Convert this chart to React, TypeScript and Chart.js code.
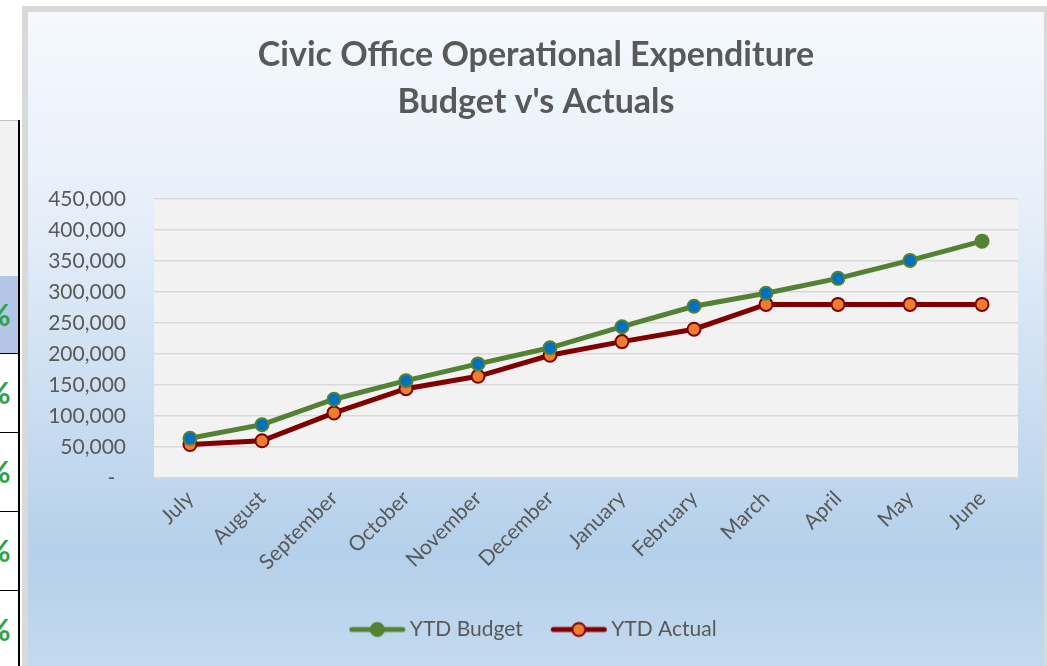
import React, { useEffect, useRef } from "react";
import { Chart, registerables } from "chart.js";

Chart.register(...registerables);

const months = ["July", "August", "September", "October", "November", "December", "January", "February", "March", "April", "May", "June"];
const ytdBudget = [64000, 86000, 127000, 157000, 184000, 210000, 244000, 277000, 298000, 322000, 351000, 382000];
const ytdActual = [54000, 60000, 105000, 144000, 164000, 198000, 220000, 240000, 280000, 280000, 280000, 280000];
const titleLines = ["Civic Office Operational Expenditure", "Budget v's Actuals"];
const seriesNames = ["YTD Budget", "YTD Actual"];

const GREEN = "#548235";
const BLUE = "#0070C0";
const DARKRED = "#800000";
const ORANGE = "#ED7D31";
const TEXT = "#595959";
const FONT = "Lato, 'Open Sans', sans-serif";

function legendIcon(line: string, fill: string, border: string) {
  const c = document.createElement("canvas");
  c.width = 70;
  c.height = 20;
  const ctx = c.getContext("2d")!;
  ctx.strokeStyle = line;
  ctx.lineWidth = 5;
  ctx.lineCap = "round";
  ctx.beginPath();
  ctx.moveTo(9.5, 10);
  ctx.lineTo(60.5, 10);
  ctx.stroke();
  ctx.beginPath();
  ctx.arc(35, 10, 6.5, 0, Math.PI * 2);
  ctx.fillStyle = fill;
  ctx.fill();
  ctx.lineWidth = 2;
  ctx.strokeStyle = border;
  ctx.stroke();
  return c;
}

const plotBg = {
  id: "plotBg",
  beforeDraw(chart: any) {
    const { ctx, chartArea } = chart;
    ctx.save();
    ctx.fillStyle = "#f2f2f2";
    ctx.fillRect(chartArea.left, chartArea.top, chartArea.right - chartArea.left, chartArea.bottom - chartArea.top);
    ctx.restore();
  },
};

export default function App() {
  const ref = useRef<HTMLCanvasElement>(null);

  useEffect(() => {
    const icons = [legendIcon(GREEN, GREEN, GREEN), legendIcon(DARKRED, ORANGE, DARKRED)];
    const budgetFill = ytdBudget.map((_, i) => (i === ytdBudget.length - 1 ? GREEN : BLUE));
    const chart = new Chart(ref.current!, {
      type: "line",
      data: {
        labels: months,
        datasets: [
          {
            label: seriesNames[0],
            data: ytdBudget,
            borderColor: GREEN,
            borderWidth: 5,
            pointRadius: 6.5,
            pointBorderWidth: 2,
            pointBackgroundColor: budgetFill,
            pointBorderColor: GREEN,
            tension: 0,
          },
          {
            label: seriesNames[1],
            data: ytdActual,
            borderColor: DARKRED,
            borderWidth: 5,
            pointRadius: 6.5,
            pointBorderWidth: 2,
            pointBackgroundColor: ORANGE,
            pointBorderColor: DARKRED,
            tension: 0,
          },
        ],
      },
      plugins: [plotBg],
      options: {
        animation: false,
        responsive: false,
        maintainAspectRatio: false,
        layout: { padding: { left: 0, right: 0, top: 0, bottom: 16 } },
        plugins: {
          title: {
            display: true,
            text: titleLines,
            color: TEXT,
            font: { family: FONT, size: 34, weight: "bold", lineHeight: 47 / 34 },
            padding: { top: 20, bottom: 73 },
          },
          legend: {
            position: "bottom",
            labels: {
              color: TEXT,
              font: { family: FONT, size: 21 },
              usePointStyle: true,
              pointStyleWidth: 44,
              boxHeight: 20,
              padding: 34,
              generateLabels(chart: any) {
                const items = Chart.defaults.plugins.legend.labels.generateLabels(chart);
                items.forEach((it: any, i: number) => {
                  it.pointStyle = icons[i];
                });
                return items;
              },
            },
          },
          tooltip: { enabled: false },
        },
        scales: {
          x: {
            offset: true,
            grid: { display: false, drawTicks: false },
            border: { display: false },
            ticks: {
              color: TEXT,
              font: { family: FONT, size: 21 },
              minRotation: 45,
              maxRotation: 45,
              padding: 8,
            },
            afterFit(scale: any) {
              scale.height = 107;
            },
          },
          y: {
            min: 0,
            max: 450000,
            grid: { color: "#d9d9d9", lineWidth: 1.5, drawTicks: false },
            border: { display: false },
            ticks: {
              stepSize: 50000,
              color: TEXT,
              font: { family: FONT, size: 21 },
              padding: 28,
              callback: (v: any) => (Number(v) === 0 ? "-  " : Number(v).toLocaleString("en-US")),
            },
            afterFit(scale: any) {
              scale.width = 126;
            },
          },
          yRight: {
            position: "right",
            display: true,
            grid: { display: false, drawTicks: false },
            border: { display: false },
            ticks: { display: false },
            afterFit(scale: any) {
              scale.width = 26;
            },
          },
        },
      },
    });
    return () => chart.destroy();
  }, []);

  const cellBorder = "1.5px solid #000";
  const pct = (top: number, h: number, bg: string) => (
    <div
      key={top}
      style={{
        position: "absolute",
        left: 0,
        top,
        width: 19,
        height: h,
        background: bg,
        borderBottom: cellBorder,
        overflow: "hidden",
      }}
    >
      <span
        style={{
          position: "absolute",
          left: -14,
          top: h / 2 - 19,
          fontFamily: "Lato, sans-serif",
          fontWeight: "bold",
          fontSize: 30,
          color: "#2fa24a",
        }}
      >
        %
      </span>
    </div>
  );

  return (
    <div style={{ position: "fixed", left: 0, top: 0, width: 1047, height: 666, overflow: "hidden", background: "#fff" }}>
      <div style={{ position: "absolute", left: 0, top: 120, width: 19, height: 156, background: "#f2f2f2", borderTop: "1px solid #bfbfbf" }} />
      {pct(276, 77, "#b4c6e7")}
      {pct(354, 78, "#fff")}
      {pct(433, 78, "#fff")}
      {pct(512, 78, "#fff")}
      {pct(591, 78, "#fff")}
      <div style={{ position: "absolute", left: 18, top: 120, width: 2, height: 546, background: "#000" }} />
      <div
        style={{
          position: "absolute",
          left: 22,
          top: 6,
          width: 1016,
          height: 660,
          borderLeft: "6px solid #d9d9d9",
          borderTop: "6px solid #d9d9d9",
          borderRight: "3px solid #d9d9d9",
          background: "linear-gradient(to bottom, #f5f9fd 0%, #e6eff9 30%, #cfe0f2 55%, #b5d0ea 82%, #c4daef 100%)",
        }}
      >
        <canvas ref={ref} width={1016} height={654} style={{ display: "block", width: 1016, height: 654 }} />
      </div>
    </div>
  );
}
